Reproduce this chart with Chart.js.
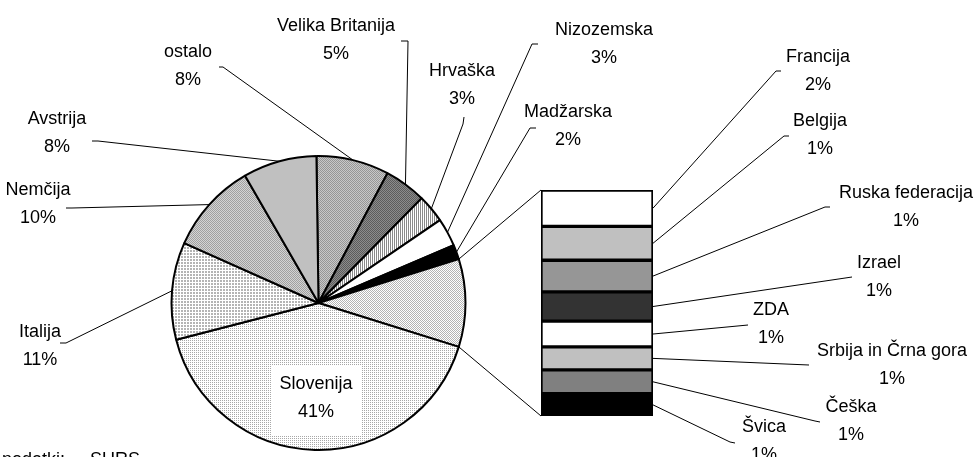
<!DOCTYPE html>
<html>
<head>
<meta charset="utf-8">
<script src="https://cdn.jsdelivr.net/npm/chart.js@4"></script>
<style>
  html, body { margin: 0; padding: 0; background: #fff; }
  #wrap { position: relative; width: 980px; height: 457px; overflow: hidden; background: #fff; }
  #wrap canvas { position: absolute; left: 0; top: 0; }
</style>
</head>
<body>
<div id="wrap">
  <canvas id="pie" width="980" height="457"></canvas>
  <canvas id="bar" width="980" height="457"></canvas>
</div>
<script>
// Main pie, clockwise from 12 o'clock (the small countries go into the bar)
const pieLabels = ['ostalo', 'Velika Britanija', 'Hrvaška', 'Nizozemska', 'Madžarska', 'OTHER', 'Slovenija', 'Italija', 'Nemčija', 'Avstrija'];
const mainValues = [8.0, 4.6, 3.1, 3.1, 1.6, 41.15, 10.7, 10.0, 8.1]; // without the OTHER slice
// Bar breakdown of the OTHER slice, top to bottom
const barLabels = ['Francija', 'Belgija', 'Ruska federacija', 'Izrael', 'ZDA', 'Srbija in Črna gora', 'Češka', 'Švica'];
const barValues = [1.55, 1.45, 1.35, 1.25, 1.1, 0.98, 1.02, 0.95];

const OTHER_IDX = 5;
const otherTotal = barValues.reduce((a, b) => a + b, 0);
const pieValues = mainValues.slice(0, OTHER_IDX).concat([otherTotal], mainValues.slice(OTHER_IDX));

const FONT = '18px "Liberation Sans", Arial, sans-serif';
const LINE_H = 28;

// --- fill patterns (Excel style) ---
function tile(w, h, fn) {
    const c = document.createElement('canvas');
    c.width = w; c.height = h;
    const x = c.getContext('2d');
    fn(x);
    return x.createPattern(c, 'repeat');
}
function checker(a, b) {
    return tile(2, 2, x => {
        x.fillStyle = b; x.fillRect(0, 0, 2, 2);
        x.fillStyle = a; x.fillRect(0, 0, 1, 1); x.fillRect(1, 1, 1, 1);
    });
}
function dots(a, b) {
    return tile(2, 2, x => {
        x.fillStyle = b; x.fillRect(0, 0, 2, 2);
        x.fillStyle = a; x.fillRect(0, 0, 1, 1);
    });
}
const vstripes = tile(2, 1, x => {
    x.fillStyle = '#ffffff'; x.fillRect(0, 0, 2, 1);
    x.fillStyle = '#8a8a8a'; x.fillRect(0, 0, 1, 1);
});
const grid = tile(3, 3, x => {
    x.fillStyle = '#ffffff'; x.fillRect(0, 0, 3, 3);
    x.fillStyle = '#b4b4b4'; x.fillRect(1, 1, 2, 2);
});

const pieFills = [
    checker('#969696', '#c8c8c8'), // ostalo
    checker('#5c5c5c', '#8c8c8c'), // Velika Britanija
    vstripes,                      // Hrvaška
    '#ffffff',                     // Nizozemska
    '#000000',                     // Madžarska
    checker('#b4b4b4', '#ffffff'), // OTHER
    dots('#a8a8a8', '#ffffff'),    // Slovenija
    grid,                          // Italija
    checker('#a0a0a0', '#d4d4d4'), // Nemčija
    '#c0c0c0'                      // Avstrija
];
const barFills = ['#ffffff', '#c0c0c0', '#969696', '#333333', '#ffffff', '#c0c0c0', '#808080', '#000000'];

// label placement: text centre x, first baseline y, leader start points
const pieLabelPos = [
    { x: 188, y: 57,  lead: [[219, 67], [223, 67]] },
    { x: 336, y: 31,  lead: [[401, 41], [408, 41]] },
    { x: 462, y: 76,  lead: [[464, 117], [463, 124]] },
    { x: 604, y: 35,  lead: [[538, 44], [532, 44]] },
    { x: 568, y: 117, lead: [[536, 128], [530, 128]] },
    null,
    { x: 316, y: 389, box: [272, 365, 89, 70] },
    { x: 40,  y: 337, lead: [[60, 343], [66, 343]] },
    { x: 38,  y: 195, lead: [[66, 208], [72, 208]] },
    { x: 57,  y: 124, lead: [[92, 141], [98, 141]] }
];
const barLabelPos = [
    { x: 818, y: 62,  lead: [[781, 71], [776, 71]] },
    { x: 820, y: 126, lead: [[789, 136], [784, 136]] },
    { x: 906, y: 198, lead: [[830, 207], [825, 207]] },
    { x: 879, y: 268, lead: [[852, 277]] },
    { x: 771, y: 315, lead: [[748, 325]] },
    { x: 892, y: 356, lead: [[809, 365]] },
    { x: 851, y: 412, lead: [[820, 422], [815, 421]] },
    { x: 764, y: 432, lead: [[735, 443], [730, 442]] }
];

function pct(v) { return Math.round(v) + '%'; }

function drawLabel(ctx, name, value, pos) {
    ctx.fillStyle = '#000';
    ctx.font = FONT;
    ctx.textAlign = 'center';
    ctx.textBaseline = 'alphabetic';
    ctx.fillText(name, pos.x, pos.y);
    ctx.fillText(pct(value), pos.x, pos.y + LINE_H);
}

function drawLeader(ctx, pts, end) {
    ctx.beginPath();
    ctx.moveTo(pts[0][0], pts[0][1]);
    for (let i = 1; i < pts.length; i++) ctx.lineTo(pts[i][0], pts[i][1]);
    ctx.lineTo(end[0], end[1]);
    ctx.strokeStyle = '#000';
    ctx.lineWidth = 1;
    ctx.stroke();
}

const pieLabelsPlugin = {
    id: 'pieLabels',
    afterDraw(chart) {
        const ctx = chart.ctx;
        const meta = chart.getDatasetMeta(0);
        ctx.save();
        meta.data.forEach((arc, i) => {
            const pos = pieLabelPos[i];
            if (!pos) return;
            if (pos.box) {
                ctx.fillStyle = '#fff';
                ctx.fillRect(pos.box[0], pos.box[1], pos.box[2], pos.box[3]);
            } else {
                const mid = (arc.startAngle + arc.endAngle) / 2;
                const edge = [arc.x + arc.outerRadius * Math.cos(mid), arc.y + arc.outerRadius * Math.sin(mid)];
                drawLeader(ctx, pos.lead, edge);
            }
            drawLabel(ctx, pieLabels[i], pieValues[i], pos);
        });
        // source note
        ctx.font = FONT;
        ctx.textAlign = 'left';
        ctx.fillStyle = '#000';
        ctx.fillText('podatki:', 2, 465);
        ctx.fillText('SURS', 90, 465);
        ctx.restore();
    }
};

const pieChart = new Chart(document.getElementById('pie'), {
    type: 'pie',
    data: {
        labels: pieLabels,
        datasets: [{
            data: pieValues,
            backgroundColor: pieFills,
            borderColor: '#000',
            borderWidth: 2
        }]
    },
    options: {
        responsive: false,
        animation: false,
        radius: 147,
        // centre the OTHER slice on 3 o'clock
        rotation: 90 - (pieValues.slice(0, OTHER_IDX).reduce((a, b) => a + b, 0) + otherTotal / 2) * 3.6,
        layout: { padding: { left: 0, right: 343, top: 149, bottom: 0 } },
        plugins: { legend: { display: false }, tooltip: { enabled: false } }
    },
    plugins: [pieLabelsPlugin]
});

const barLabelsPlugin = {
    id: 'barLabels',
    afterDraw(chart) {
        const ctx = chart.ctx;
        ctx.save();
        let top = Infinity, bottom = -Infinity, left = 0;
        chart.data.datasets.forEach((ds, i) => {
            const el = chart.getDatasetMeta(i).data[0];
            const y0 = Math.min(el.y, el.base), y1 = Math.max(el.y, el.base);
            top = Math.min(top, y0); bottom = Math.max(bottom, y1);
            left = el.x - el.width / 2;
            const right = el.x + el.width / 2;
            drawLeader(ctx, barLabelPos[i].lead, [right, (y0 + y1) / 2]);
            drawLabel(ctx, barLabels[i], barValues[i], barLabelPos[i]);
        });
        // connectors from the OTHER slice to the bar
        const arc = pieChart.getDatasetMeta(0).data[OTHER_IDX];
        const r = arc.outerRadius;
        const a = [arc.x + r * Math.cos(arc.startAngle), arc.y + r * Math.sin(arc.startAngle)];
        const b = [arc.x + r * Math.cos(arc.endAngle), arc.y + r * Math.sin(arc.endAngle)];
        drawLeader(ctx, [a], [left, top]);
        drawLeader(ctx, [b], [left, bottom]);
        ctx.restore();
    }
};

new Chart(document.getElementById('bar'), {
    type: 'bar',
    data: {
        labels: [''],
        datasets: barLabels.map((name, i) => ({
            label: name,
            data: [barValues[i]],
            backgroundColor: barFills[i],
            borderColor: '#000',
            borderWidth: 2,
            borderSkipped: false,
            barPercentage: 1,
            categoryPercentage: 1
        }))
    },
    options: {
        responsive: false,
        animation: false,
        layout: { padding: { left: 541, right: 327, top: 190, bottom: 41 } },
        scales: {
            x: { display: false, stacked: true },
            y: { display: false, stacked: true, reverse: true, min: 0, max: otherTotal }
        },
        plugins: { legend: { display: false }, tooltip: { enabled: false } }
    },
    plugins: [barLabelsPlugin]
});
</script>
</body>
</html>
